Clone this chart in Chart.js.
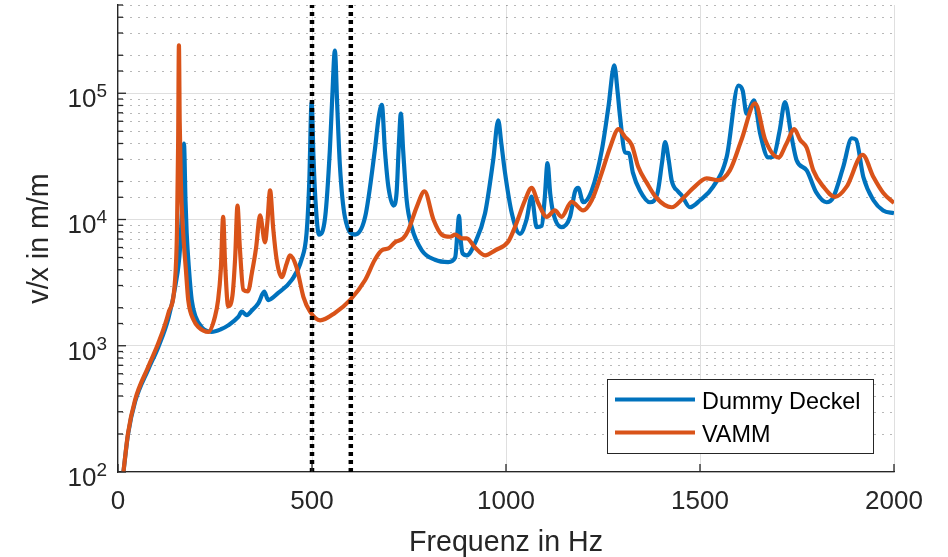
<!DOCTYPE html>
<html>
<head>
<meta charset="utf-8">
<title>v/x Frequenzgang</title>
<script src="https://cdn.jsdelivr.net/npm/chart.js@4"></script>
<style>
  html, body { margin: 0; padding: 0; background: #fff; }
  canvas { display: block; }
</style>
</head>
<body>
<canvas id="chart" width="948" height="557"></canvas>
<script>
// frequency axis values (Hz) and magnitudes (m/m)
const freqDummy = [14, 26, 44, 78, 104, 130, 148, 160, 166, 170, 174, 177, 183, 190, 200, 216, 241, 265, 284, 310,
  319, 332, 345, 362, 377, 387, 413, 448, 473, 486, 493, 499, 504, 509, 518, 534, 546, 552, 559, 565,
  572, 585, 611, 637, 662, 672, 680, 688, 697, 710, 718, 724, 729, 735, 744, 757, 783, 817, 851, 869,
  875, 879, 883, 888, 899, 920, 946, 967, 980, 988, 997, 1015, 1036, 1053, 1066, 1079, 1092, 1100, 1107, 1114,
  1122, 1143, 1165, 1178, 1186, 1199, 1221, 1247, 1264, 1279, 1288, 1294, 1307, 1317, 1327, 1345, 1371, 1390, 1402, 1410,
  1419, 1427, 1444, 1453, 1474, 1500, 1534, 1569, 1599, 1610, 1620, 1639, 1655, 1676, 1689, 1705, 1719, 1736, 1749, 1775,
  1800, 1826, 1843, 1869, 1891, 1902, 1921, 1947, 1972, 2000];
const magDummy = [100, 200, 360, 650, 980, 1650, 3000, 6000, 15000, 40000, 14000, 7800, 4000, 2300, 1700, 1400, 1290, 1350, 1450, 1690,
  1860, 1750, 1900, 2180, 2680, 2300, 2620, 3320, 4800, 7800, 20000, 85000, 30000, 14000, 7600, 10500, 35500, 90000, 218000, 80000,
  26500, 10400, 7600, 10500, 35500, 65000, 81000, 35000, 18000, 12900, 16300, 40000, 69000, 35000, 14200, 8700, 5700, 4800, 4600, 5000,
  8000, 10700, 7000, 5400, 5200, 6500, 11200, 29500, 61000, 40000, 24000, 11200, 7700, 10000, 15200, 8700, 8900, 15000, 28000, 16000,
  11200, 8700, 10500, 16700, 17800, 13700, 17000, 35500, 78000, 166000, 100000, 65000, 34000, 33500, 23500, 17000, 13700, 16000, 28000, 41000,
  30000, 20400, 16600, 15500, 12500, 14200, 18200, 31500, 115000, 105000, 69000, 88000, 48000, 31000, 31500, 50000, 85000, 45000, 29500, 24500,
  16300, 13700, 14900, 26000, 44000, 43000, 21700, 14200, 11800, 11200];

const freqVamm = [14, 26, 44, 78, 104, 130, 147, 152, 155, 157, 159, 162, 168, 175, 181, 195, 207, 233, 250, 258,
  265, 271, 276, 284, 295, 302, 308, 314, 323, 335, 345, 356, 366, 379, 385, 392, 400, 409, 422, 435,
  443, 460, 478, 495, 521, 559, 598, 637, 662, 680, 697, 714, 735, 748, 770, 790, 813, 834, 856, 869,
  886, 899, 920, 946, 972, 1006, 1023, 1049, 1066, 1083, 1105, 1126, 1143, 1169, 1199, 1221, 1247, 1268, 1290, 1307,
  1324, 1341, 1363, 1388, 1427, 1457, 1483, 1517, 1547, 1577, 1607, 1642, 1668, 1702, 1723, 1743, 1758, 1775, 1792, 1818,
  1848, 1878, 1919, 1947, 1972, 2000];
const magVamm = [100, 204, 372, 682, 1050, 1820, 3300, 8000, 40000, 240000, 60000, 20000, 7800, 4000, 2300, 1600, 1410, 1290, 1700, 2300,
  4000, 10500, 4500, 2050, 2500, 5000, 12900, 6000, 2780, 2700, 3760, 6000, 10800, 6600, 9500, 17000, 8500, 4800, 3500, 4500,
  5200, 4200, 2430, 1860, 1590, 1820, 2300, 3320, 4800, 5700, 5900, 6600, 7100, 8200, 12600, 16700, 10000, 7600, 7300, 7600,
  7100, 7100, 6000, 5200, 5700, 6700, 8700, 14200, 17800, 13500, 10500, 11800, 10500, 13800, 11800, 14200, 23500, 37000, 52000, 45000,
  39000, 26000, 19500, 14800, 12500, 14800, 17800, 21200, 20500, 24500, 42800, 83000, 42800, 31000, 40000, 52000, 42800, 37000, 24500, 18200,
  15100, 18200, 32500, 21700, 16300, 13500];

const markerFreqs = [500, 600];
const xTickValues = [0, 500, 1000, 1500, 2000];
const xLimits = [0, 2000];
const yLimits = [100, 500000];

const textColor = '#262626';
const fontFamily = '"Liberation Sans", Arial, Helvetica, sans-serif';

function toPoints(xs, ys) {
  return xs.map((x, i) => ({ x: x, y: ys[i] }));
}

function isDecade(v) {
  const l = Math.log10(v);
  return Math.abs(l - Math.round(l)) < 1e-9;
}

const markerSets = markerFreqs.map(f => ({
  label: 'marker',
  data: [{ x: f, y: yLimits[0] }, { x: f, y: yLimits[1] }],
  borderColor: '#000',
  borderWidth: 4.5,
  borderDash: [4, 4],
  borderCapStyle: 'butt',
  pointRadius: 0,
  order: 0
}));

// MATLAB style axes: inward ticks, 10^n labels, dotted minor grid, legend box
const matlabAxes = {
  id: 'matlabAxes',
  beforeDatasetsDraw(chart) {
    const { ctx, chartArea } = chart;
    const ys = chart.scales.y;
    ctx.save();
    ctx.strokeStyle = 'rgba(0,0,0,0.28)';
    ctx.lineWidth = 1;
    ctx.setLineDash([2, 6]);
    ys.ticks.forEach(t => {
      if (isDecade(t.value)) return;
      const py = Math.round(ys.getPixelForValue(t.value)) + 0.5;
      ctx.beginPath();
      ctx.moveTo(chartArea.left + 4, py);
      ctx.lineTo(chartArea.right, py);
      ctx.stroke();
    });
    ctx.restore();
  },
  afterDraw(chart) {
    const { ctx, chartArea } = chart;
    const xs = chart.scales.x;
    const ys = chart.scales.y;
    ctx.save();
    ctx.strokeStyle = textColor;
    ctx.lineWidth = 1.3;
    ctx.setLineDash([]);

    // y ticks (inward)
    ys.ticks.forEach(t => {
      const py = ys.getPixelForValue(t.value);
      const len = isDecade(t.value) ? 8 : 5;
      ctx.beginPath();
      ctx.moveTo(chartArea.left, py);
      ctx.lineTo(chartArea.left + len, py);
      ctx.stroke();
    });
    // x ticks (inward)
    xTickValues.forEach(v => {
      const px = xs.getPixelForValue(v);
      ctx.beginPath();
      ctx.moveTo(px, chartArea.bottom);
      ctx.lineTo(px, chartArea.bottom - 8);
      ctx.stroke();
    });

    ctx.fillStyle = textColor;
    // x tick labels
    ctx.font = '26px ' + fontFamily;
    ctx.textAlign = 'center';
    ctx.textBaseline = 'alphabetic';
    xTickValues.forEach(v => {
      ctx.fillText(String(v), xs.getPixelForValue(v), chartArea.bottom + 37);
    });

    // y tick labels 10^n
    ys.ticks.forEach(t => {
      if (!isDecade(t.value)) return;
      const py = ys.getPixelForValue(t.value);
      const exp = String(Math.round(Math.log10(t.value)));
      const right = chartArea.left - 11;
      ctx.textAlign = 'right';
      ctx.font = '19px ' + fontFamily;
      const ew = ctx.measureText(exp).width;
      ctx.fillText(exp, right, py + 4);
      ctx.font = '26px ' + fontFamily;
      ctx.fillText('10', right - ew, py + 14);
    });

    // axis titles
    ctx.font = '28.6px ' + fontFamily;
    ctx.textAlign = 'center';
    ctx.fillText('Frequenz in Hz', (chartArea.left + chartArea.right) / 2, 551);
    ctx.save();
    ctx.translate(48, (chartArea.top + chartArea.bottom) / 2);
    ctx.rotate(-Math.PI / 2);
    ctx.fillText('v/x in m/m', 0, 0);
    ctx.restore();

    // legend
    const series = chart.data.datasets.filter(d => d.label !== 'marker');
    const bx = 607, by = 379, bw = 266, bh = 74;
    ctx.fillStyle = '#fff';
    ctx.fillRect(bx, by, bw, bh);
    ctx.strokeStyle = textColor;
    ctx.lineWidth = 1;
    ctx.strokeRect(bx + 0.5, by + 0.5, bw, bh);
    ctx.font = '23.4px ' + fontFamily;
    ctx.textAlign = 'left';
    series.forEach((d, i) => {
      const ly = 399.5 + i * 33;
      ctx.strokeStyle = d.borderColor;
      ctx.lineWidth = 4;
      ctx.beginPath();
      ctx.moveTo(615, ly);
      ctx.lineTo(695, ly);
      ctx.stroke();
      ctx.fillStyle = '#000';
      ctx.fillText(d.label, 702, ly + 9);
    });
    ctx.restore();
  }
};

new Chart(document.getElementById('chart'), {
  type: 'line',
  data: {
    datasets: [
      ...markerSets,
      {
        label: 'Dummy Deckel',
        data: toPoints(freqDummy, magDummy),
        borderColor: '#0072BD',
        borderWidth: 4.2,
        pointRadius: 0,
        cubicInterpolationMode: 'monotone',
        order: 2
      },
      {
        label: 'VAMM',
        data: toPoints(freqVamm, magVamm),
        borderColor: '#D95319',
        borderWidth: 4.2,
        pointRadius: 0,
        cubicInterpolationMode: 'monotone',
        order: 1
      }
    ]
  },
  options: {
    responsive: false,
    animation: false,
    devicePixelRatio: 1,
    layout: { padding: { left: 118, right: 54, top: 5, bottom: 85 } },
    plugins: {
      legend: { display: false },
      tooltip: { enabled: false }
    },
    scales: {
      x: {
        type: 'linear',
        min: xLimits[0],
        max: xLimits[1],
        ticks: { display: false, stepSize: 500 },
        grid: { color: '#dfdfdf', lineWidth: 1, drawTicks: false },
        border: { display: true, color: textColor, width: 1.3 }
      },
      y: {
        type: 'logarithmic',
        min: yLimits[0],
        max: yLimits[1],
        ticks: { display: false },
        grid: {
          color: c => (c.tick && isDecade(c.tick.value)) ? '#dfdfdf' : 'rgba(0,0,0,0)',
          lineWidth: 1,
          drawTicks: false
        },
        border: { display: true, color: textColor, width: 1.3 }
      }
    }
  },
  plugins: [matlabAxes]
});
</script>
</body>
</html>
